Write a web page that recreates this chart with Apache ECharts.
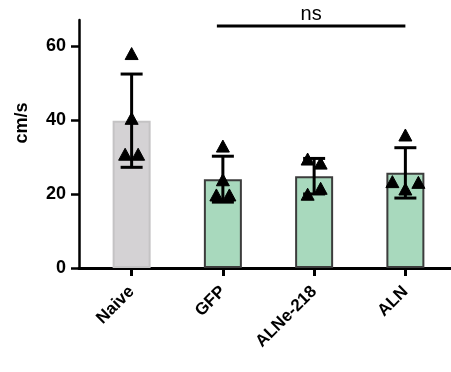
<!DOCTYPE html>
<html>
<head>
<meta charset="utf-8">
<script src="https://cdn.jsdelivr.net/npm/echarts@6/dist/echarts.min.js"></script>
<style>html,body{margin:0;padding:0;background:#fff;}#c{width:451px;height:372px;}</style>
</head>
<body>
<div id="c"></div>
<script>
const categories = ['Naive', 'GFP', 'ALNe-218', 'ALN'];
const means = [39.8, 24.0, 24.8, 25.7];
const sds = [12.6, 6.2, 4.8, 6.8];
const points = [
  [57.8, 40.3, 30.6, 30.6],
  [32.8, 23.7, 19.6, 19.6],
  [29.3, 28.2, 19.8, 21.4],
  [35.8, 23.2, 21.2, 23.0]
];
const yTicks = [0, 20, 40, 60];
const sigFrom = [1];
const sigTo = [3];
const sigLevel = [65.4];
const sigText = ['ns'];

const fills = ['#d4d2d4', '#a8d9bd', '#a8d9bd', '#a8d9bd'];
const borders = ['#c4c3c4', '#3c3c3c', '#3c3c3c', '#3c3c3c'];
const FONT = "'Liberation Sans', Arial, sans-serif";

// horizontal spreading of nearby points (GraphPad-like)
function slotsFor(vals, thr) {
  const clusters = [];
  vals.forEach((v, i) => {
    let c = clusters.find(cl => cl.some(j => Math.abs(vals[j] - v) <= thr));
    if (!c) { c = []; clusters.push(c); }
    c.push(i);
  });
  const slots = new Array(vals.length).fill(0);
  clusters.forEach(cl => cl.forEach((j, k) => { slots[j] = k - (cl.length - 1) / 2; }));
  return slots;
}
const pointData = [];
points.forEach((arr, g) => {
  const s = slotsFor(arr, 3);
  arr.forEach((v, i) => pointData.push([g, v, s[i]]));
});

const chart = echarts.init(document.getElementById('c'), null, {renderer: 'canvas'});
chart.setOption({
  animation: false,
  backgroundColor: '#fff',
  grid: [
    {left: 86, right: -1, top: 20, bottom: 104},
    {left: 79, right: 0, top: 20, bottom: 104}
  ],
  xAxis: [
    {
      type: 'category', data: categories, gridIndex: 0,
      axisLine: {show: false},
      axisTick: {show: true, alignWithLabel: true, length: 8, lineStyle: {color: '#000', width: 3}},
      axisLabel: {rotate: 45, margin: 21, color: '#000', fontSize: 17, fontWeight: 'bold', fontFamily: FONT, interval: 0},
      splitLine: {show: false}
    },
    {
      type: 'value', gridIndex: 1, min: 0, max: 1,
      axisLine: {show: true, lineStyle: {color: '#000', width: 3}},
      axisTick: {show: false}, axisLabel: {show: false}, splitLine: {show: false}
    }
  ],
  yAxis: [
    {type: 'value', gridIndex: 0, min: 0, max: 67, show: false},
    {
      type: 'value', gridIndex: 1, min: 0, max: 67,
      name: 'cm/s', nameLocation: 'middle', nameGap: 48,
      nameTextStyle: {color: '#000', fontSize: 18, fontWeight: 'bold', fontFamily: FONT, padding: [0, 0, 0, 42]},
      axisLine: {show: true, lineStyle: {color: '#000', width: 2.5}},
      axisTick: {show: true, length: 8, customValues: yTicks, lineStyle: {color: '#000', width: 2.5}},
      axisLabel: {customValues: yTicks, margin: 13, color: '#000', fontSize: 18, fontWeight: 'bold', fontFamily: FONT},
      splitLine: {show: false}
    }
  ],
  series: [
    {
      type: 'bar', xAxisIndex: 0, yAxisIndex: 0, barWidth: 38,
      data: means.map((v, i) => ({value: v, itemStyle: {color: fills[i], borderColor: borders[i], borderWidth: 2}})),
      z: 2
    },
    {
      type: 'custom', xAxisIndex: 0, yAxisIndex: 0, z: 3,
      data: means.map((m, i) => [i, m - sds[i], m + sds[i]]),
      renderItem: function (params, api) {
        const lo = api.coord([api.value(0), api.value(1)]);
        const hi = api.coord([api.value(0), api.value(2)]);
        const hw = 11;
        const st = {stroke: '#000', lineWidth: 3, fill: null};
        return {type: 'group', children: [
          {type: 'line', shape: {x1: lo[0], y1: lo[1], x2: hi[0], y2: hi[1]}, style: st},
          {type: 'line', shape: {x1: lo[0] - hw, y1: lo[1], x2: lo[0] + hw, y2: lo[1]}, style: st},
          {type: 'line', shape: {x1: hi[0] - hw, y1: hi[1], x2: hi[0] + hw, y2: hi[1]}, style: st}
        ]};
      }
    },
    {
      type: 'custom', xAxisIndex: 0, yAxisIndex: 0, z: 4,
      data: pointData,
      renderItem: function (params, api) {
        const p = api.coord([api.value(0), api.value(1)]);
        const x = p[0] + api.value(2) * 13, y = p[1];
        return {type: 'polygon', shape: {points: [[x, y - 6.5], [x - 6.5, y + 5.5], [x + 6.5, y + 5.5]]},
          style: {fill: '#000', stroke: '#000', lineWidth: 1, lineJoin: 'round'}};
      }
    },
    {
      type: 'custom', xAxisIndex: 0, yAxisIndex: 0, z: 5, clip: false,
      data: sigFrom.map((f, i) => [f, sigTo[i], sigLevel[i], i]),
      renderItem: function (params, api) {
        const a = api.coord([api.value(0), api.value(2)]);
        const b = api.coord([api.value(1), api.value(2)]);
        return {type: 'group', children: [
          {type: 'line', shape: {x1: a[0] - 6, y1: a[1], x2: b[0], y2: b[1]}, style: {stroke: '#000', lineWidth: 3}},
          {type: 'text', x: (a[0] - 6 + b[0]) / 2, y: a[1] - 1,
            style: {text: sigText[api.value(3)], fill: '#000', font: '20px ' + FONT, align: 'center', verticalAlign: 'bottom'}}
        ]};
      }
    }
  ]
});
</script>
</body>
</html>
